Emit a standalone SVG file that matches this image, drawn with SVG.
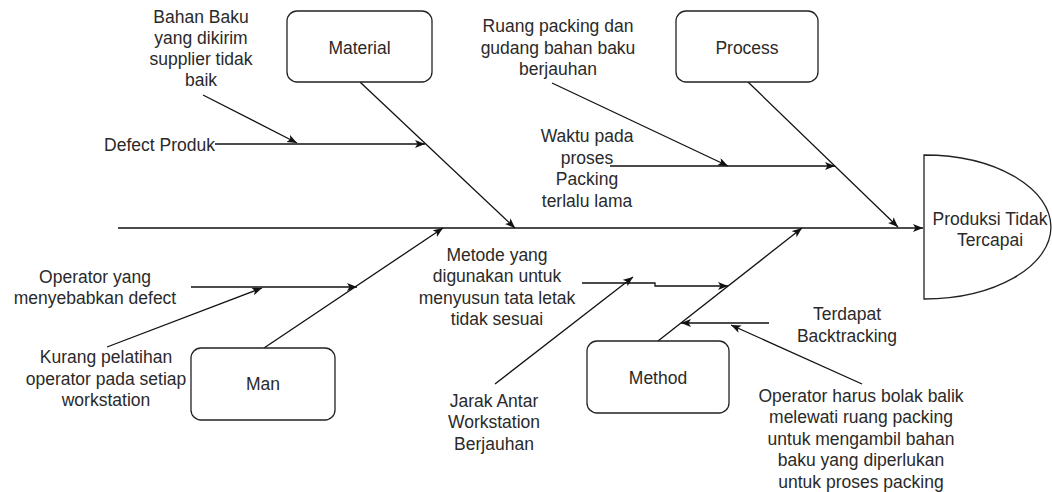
<svg xmlns="http://www.w3.org/2000/svg" width="1052" height="492" viewBox="0 0 1052 492">
<style>
.t{font-family:"Liberation Sans",Arial,sans-serif;font-size:17.5px;fill:#2a2a2a;text-anchor:middle}
.box{fill:#fff;stroke:#222;stroke-width:1.3}
.c{fill:none;stroke:#111;stroke-width:1.3}
.a{marker-end:url(#ar)}
</style>
<defs>
<marker id="ar" markerUnits="userSpaceOnUse" markerWidth="12" markerHeight="9" refX="10" refY="4" orient="auto">
<path d="M0,0 L10,4 L0,8 L2.5,4 Z" fill="#111"/>
</marker>
</defs>
<rect width="1052" height="492" fill="#fff"/>
<g id="connectors">
<line class="c a" x1="118" y1="228" x2="923" y2="228"/>
<line class="c a" x1="360" y1="82" x2="515" y2="228"/>
<line class="c a" x1="215" y1="144" x2="425" y2="144"/>
<line class="c a" x1="203" y1="95" x2="297" y2="143"/>
<line class="c a" x1="748" y1="82" x2="898" y2="227"/>
<line class="c a" x1="552" y1="83" x2="728" y2="166"/>
<line class="c a" x1="610" y1="166" x2="835" y2="166"/>
<line class="c a" x1="264" y1="348" x2="443" y2="228"/>
<line class="c a" x1="191" y1="287" x2="357" y2="287"/>
<line class="c a" x1="107" y1="347" x2="262" y2="288"/>
<line class="c a" x1="658" y1="341" x2="802" y2="228"/>
<path class="c a" d="M582,283 L655,283 L655,286 L728,286"/>
<line class="c a" x1="495" y1="384" x2="633" y2="277"/>
<line class="c a" x1="769" y1="323" x2="681" y2="323"/>
<line class="c a" x1="862" y1="384" x2="731" y2="325"/>
</g>
<g id="effect">
<path class="box" d="M924,155 A127,72 0 0 1 924,299 Z"/>
<text class="t" x="990" y="224.5">Produksi Tidak<tspan x="990" dy="21.5">Tercapai</tspan></text>
</g>
<g id="material">
<rect class="box" x="287" y="11" width="145" height="71" rx="10"/>
<text class="t" x="359.5" y="53.5">Material</text>
</g>
<g id="process">
<rect class="box" x="676" y="11" width="142" height="71" rx="10"/>
<text class="t" x="747" y="53.5">Process</text>
</g>
<g id="man">
<rect class="box" x="191" y="348" width="144" height="72" rx="10"/>
<text class="t" x="263" y="390">Man</text>
</g>
<g id="method">
<rect class="box" x="587" y="341" width="142" height="72" rx="10"/>
<text class="t" x="658" y="384">Method</text>
</g>
<g id="cause-bahan-baku">
<text class="t" x="201" y="22.5">Bahan Baku<tspan x="201" dy="21.3">yang dikirim</tspan><tspan x="201" dy="21.3">supplier tidak</tspan><tspan x="201" dy="21.3">baik</tspan></text>
</g>
<g id="cause-defect-produk">
<text class="t" x="215" y="150.5" style="text-anchor:end">Defect Produk</text>
</g>
<g id="cause-ruang-packing">
<text class="t" x="558" y="32">Ruang packing dan<tspan x="558" dy="21.5">gudang bahan baku</tspan><tspan x="558" dy="21.5">berjauhan</tspan></text>
</g>
<g id="cause-waktu">
<text class="t" x="587" y="142">Waktu pada<tspan x="587" dy="21.5">proses</tspan><tspan x="587" dy="21.5">Packing</tspan><tspan x="587" dy="21.5">terlalu lama</tspan></text>
</g>
<g id="cause-operator-defect">
<text class="t" x="95" y="282.5">Operator yang<tspan x="95" dy="21.5">menyebabkan defect</tspan></text>
</g>
<g id="cause-pelatihan">
<text class="t" x="106" y="363">Kurang pelatihan<tspan x="106" dy="21.5">operator pada setiap</tspan><tspan x="106" dy="21.5">workstation</tspan></text>
</g>
<g id="cause-metode">
<text class="t" x="497" y="260.5">Metode yang<tspan x="497" dy="21.5">digunakan untuk</tspan><tspan x="497" dy="21.5">menyusun tata letak</tspan><tspan x="497" dy="21.5">tidak sesuai</tspan></text>
</g>
<g id="cause-jarak">
<text class="t" x="494" y="406.5">Jarak Antar<tspan x="494" dy="21.5">Workstation</tspan><tspan x="494" dy="21.5">Berjauhan</tspan></text>
</g>
<g id="cause-backtracking">
<text class="t" x="847" y="320">Terdapat<tspan x="847" dy="21.5">Backtracking</tspan></text>
</g>
<g id="cause-bolak-balik">
<text class="t" x="861" y="401.5">Operator harus bolak balik<tspan x="861" dy="21.5">melewati ruang packing</tspan><tspan x="861" dy="21.5">untuk mengambil bahan</tspan><tspan x="861" dy="21.5">baku yang diperlukan</tspan><tspan x="861" dy="21.5">untuk proses packing</tspan></text>
</g>
</svg>
